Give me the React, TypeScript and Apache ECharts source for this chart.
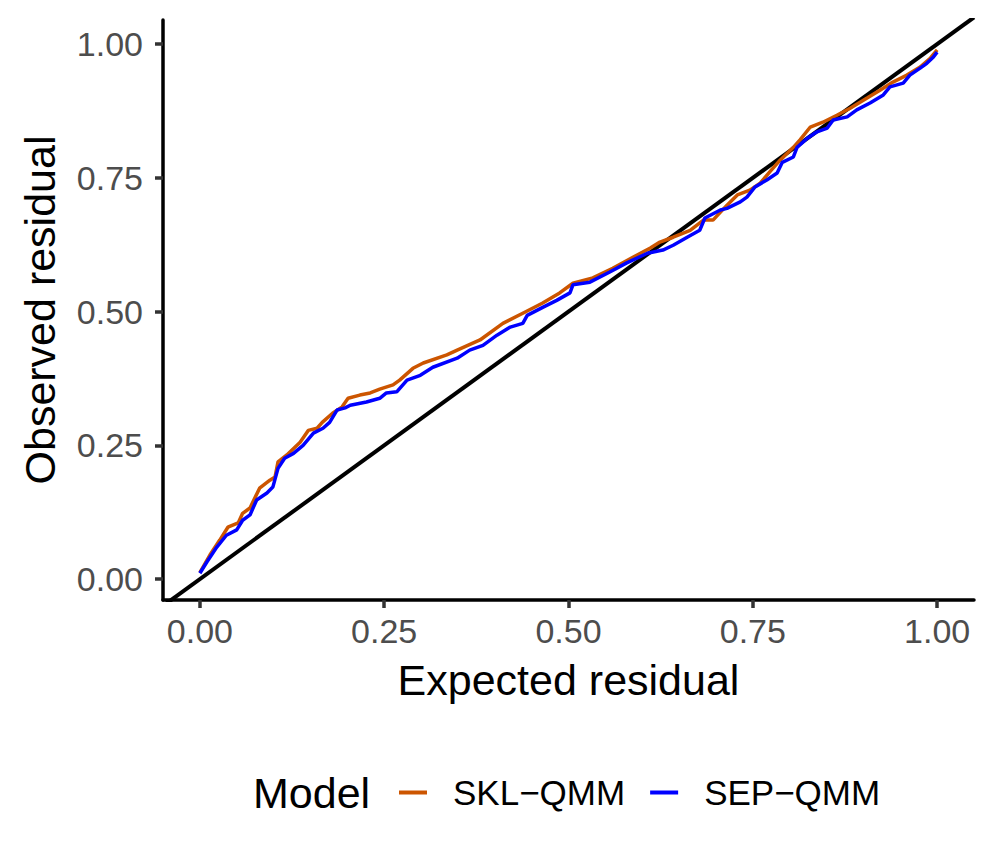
import React, { useEffect, useRef } from "react";
import * as echarts from "echarts";

// SKL−QMM (orange) points: expected residual, observed residual
const sklX = [0.0, 0.0136, 0.027, 0.038, 0.052, 0.058, 0.068, 0.081, 0.095, 0.102, 0.106, 0.118, 0.136, 0.147, 0.159, 0.166, 0.18, 0.193, 0.201, 0.217, 0.231, 0.244, 0.262, 0.271, 0.289, 0.303, 0.335, 0.349, 0.38, 0.411, 0.438, 0.465, 0.488, 0.506, 0.533, 0.56, 0.588, 0.611, 0.624, 0.642, 0.665, 0.683, 0.696, 0.715, 0.729, 0.746, 0.76, 0.773, 0.787, 0.805, 0.814, 0.828, 0.845, 0.864, 0.882, 0.905, 0.923, 0.94, 0.959, 0.977, 0.991, 1.0];
const sklY = [0.012, 0.045, 0.073, 0.097, 0.105, 0.123, 0.133, 0.17, 0.185, 0.191, 0.219, 0.232, 0.256, 0.278, 0.282, 0.293, 0.31, 0.322, 0.338, 0.344, 0.348, 0.355, 0.363, 0.372, 0.394, 0.404, 0.419, 0.428, 0.447, 0.478, 0.497, 0.516, 0.535, 0.553, 0.563, 0.581, 0.602, 0.619, 0.63, 0.639, 0.652, 0.671, 0.671, 0.699, 0.718, 0.727, 0.74, 0.761, 0.783, 0.807, 0.821, 0.845, 0.854, 0.867, 0.88, 0.899, 0.914, 0.929, 0.942, 0.957, 0.974, 0.989];

// SEP−QMM (blue) points
const sepX = [0.0, 0.0095, 0.023, 0.036, 0.05, 0.058, 0.068, 0.077, 0.091, 0.099, 0.106, 0.115, 0.127, 0.14, 0.154, 0.167, 0.176, 0.186, 0.197, 0.204, 0.226, 0.244, 0.253, 0.267, 0.281, 0.299, 0.316, 0.349, 0.366, 0.384, 0.403, 0.421, 0.438, 0.444, 0.465, 0.484, 0.502, 0.506, 0.529, 0.556, 0.579, 0.607, 0.628, 0.642, 0.661, 0.678, 0.685, 0.706, 0.715, 0.733, 0.742, 0.753, 0.769, 0.783, 0.79, 0.805, 0.81, 0.824, 0.837, 0.851, 0.859, 0.878, 0.891, 0.909, 0.927, 0.936, 0.954, 0.963, 0.977, 0.986, 0.995, 1.0];
const sepY = [0.011, 0.032, 0.06, 0.082, 0.092, 0.11, 0.12, 0.148, 0.161, 0.172, 0.207, 0.226, 0.235, 0.25, 0.273, 0.282, 0.293, 0.316, 0.32, 0.325, 0.331, 0.338, 0.348, 0.35, 0.372, 0.381, 0.396, 0.413, 0.428, 0.437, 0.456, 0.471, 0.478, 0.493, 0.508, 0.521, 0.535, 0.55, 0.555, 0.574, 0.591, 0.609, 0.615, 0.624, 0.639, 0.652, 0.675, 0.69, 0.693, 0.705, 0.714, 0.733, 0.746, 0.759, 0.779, 0.789, 0.807, 0.824, 0.836, 0.843, 0.858, 0.864, 0.877, 0.89, 0.905, 0.92, 0.927, 0.942, 0.955, 0.964, 0.976, 0.985];

// identity reference line endpoints
const refX = [-0.05, 1.05];
const refY = [-0.05, 1.05];

const xTicks = [0, 0.25, 0.5, 0.75, 1];
const yTicks = [0, 0.25, 0.5, 0.75, 1];
const seriesNames = ["SKL\u2212QMM", "SEP\u2212QMM"];
const seriesColors = ["#CC5500", "#0000FF"];
const legendTitle = "Model";
const xTitle = "Expected residual";
const yTitle = "Observed residual";

const FONT = "Liberation Sans, Arial, Helvetica, sans-serif";

const zip = (xs: number[], ys: number[]) => xs.map((x, i) => [x, ys[i]]);

export default function App() {
  const ref = useRef<HTMLDivElement>(null);
  useEffect(() => {
    if (!ref.current) return;
    const chart = echarts.init(ref.current, null, { renderer: "svg" });
    const axisCommon = {
      type: "value" as const,
      axisLine: { show: true, onZero: false, lineStyle: { color: "#000", width: 3.5 } },
      splitLine: { show: false },
      nameLocation: "middle" as const,
      nameTextStyle: { fontSize: 43, color: "#000", fontFamily: FONT },
    };
    chart.setOption({
      animation: false,
      backgroundColor: "#ffffff",
      grid: { left: 163, top: 20, width: 811, height: 580, containLabel: false },
      xAxis: {
        ...axisCommon,
        min: -0.05,
        max: 1.05,
        name: xTitle,
        nameGap: 58,
        axisTick: { show: true, length: 8, customValues: xTicks, lineStyle: { color: "#333", width: 3.5 } },
        axisLabel: {
          customValues: xTicks,
          formatter: (v: number) => v.toFixed(2),
          fontSize: 34,
          color: "#4D4D4D",
          margin: 14,
          fontFamily: FONT,
        },
      },
      yAxis: {
        ...axisCommon,
        min: -0.039,
        max: 1.045,
        name: yTitle,
        nameGap: 102,
        nameRotate: 90,
        axisTick: { show: true, length: 8, customValues: yTicks, lineStyle: { color: "#333", width: 3.5 } },
        axisLabel: {
          customValues: yTicks,
          formatter: (v: number) => v.toFixed(2),
          fontSize: 34,
          color: "#4D4D4D",
          margin: 20,
          fontFamily: FONT,
        },
      },
      legend: {
        left: 399,
        top: 775,
        padding: 0,
        itemWidth: 28,
        itemHeight: 4,
        itemGap: 25,
        icon: "rect",
        selectedMode: false,
        data: seriesNames,
        textStyle: { fontSize: 35, color: "#000", fontFamily: FONT, padding: [0, 0, 0, 21] },
      },
      graphic: [
        {
          type: "text",
          x: 253,
          y: 793,
          style: {
            text: legendTitle,
            fontSize: 43,
            fill: "#000",
            fontFamily: FONT,
            verticalAlign: "middle",
            align: "left",
          },
        },
      ],
      series: [
        {
          name: "identity",
          type: "line",
          data: zip(refX, refY),
          symbol: "none",
          clip: true,
          lineStyle: { color: "#000", width: 4 },
          z: 1,
          silent: true,
        },
        {
          name: seriesNames[0],
          type: "line",
          data: zip(sklX, sklY),
          symbol: "none",
          color: seriesColors[0],
          lineStyle: { color: seriesColors[0], width: 3.5 },
          z: 2,
        },
        {
          name: seriesNames[1],
          type: "line",
          data: zip(sepX, sepY),
          symbol: "none",
          color: seriesColors[1],
          lineStyle: { color: seriesColors[1], width: 3.5 },
          z: 3,
        },
      ],
    });
    return () => chart.dispose();
  }, []);
  return (
    <div
      ref={ref}
      style={{ position: "fixed", left: 0, top: 0, width: 997, height: 854, background: "#fff" }}
    />
  );
}
